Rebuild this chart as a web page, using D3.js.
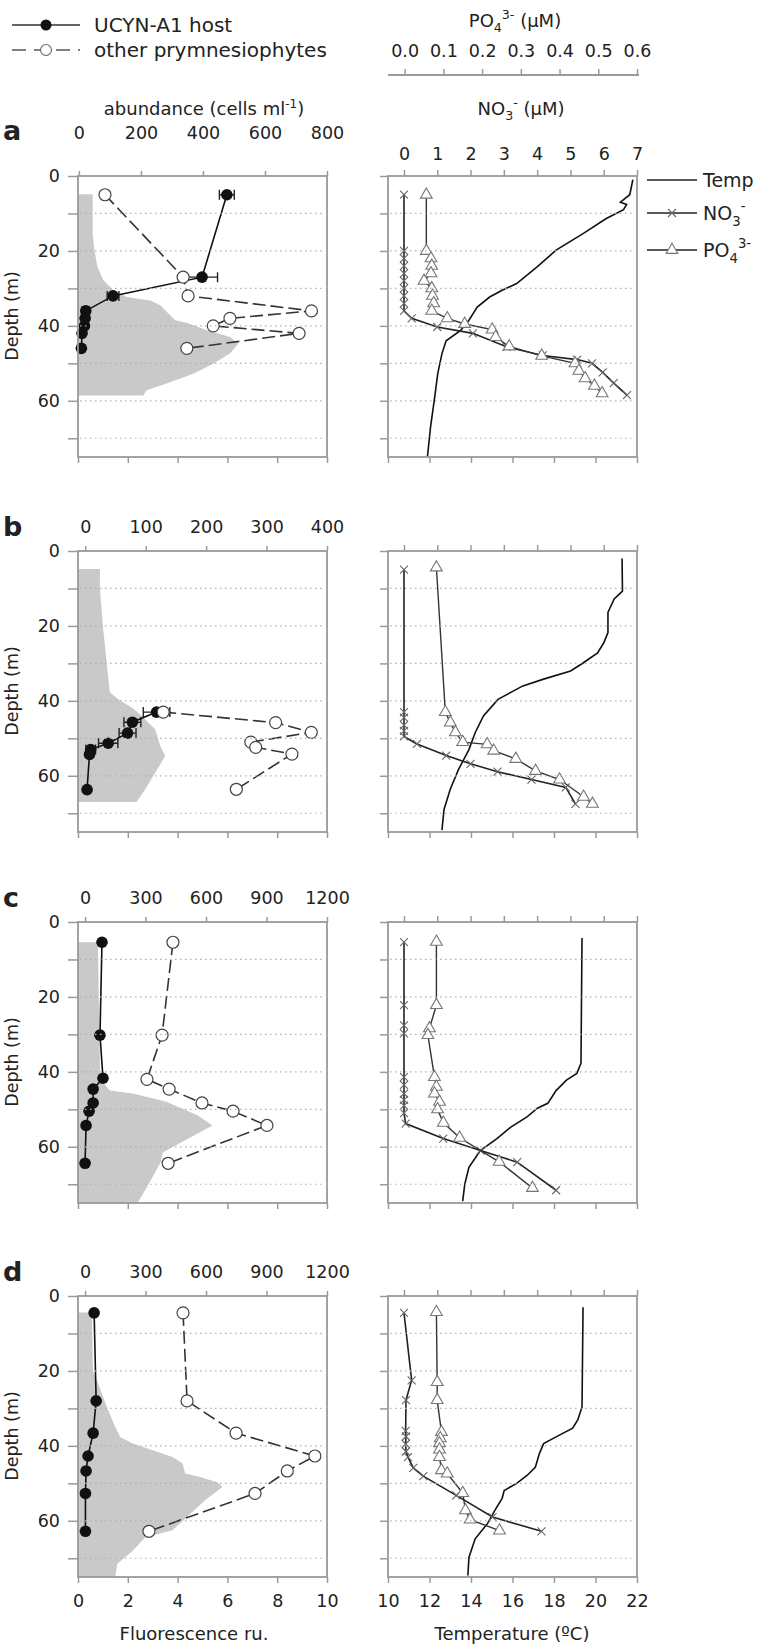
<!DOCTYPE html>
<html><head><meta charset="utf-8">
<script src="https://cdn.jsdelivr.net/npm/d3@7"></script>
<style>
body{margin:0;background:#fff;}
svg{display:block;}
text{font-family:"DejaVu Sans",sans-serif;fill:#222;}
</style></head><body>
<svg id="chart" width="764" height="1646"></svg>
<script>
// ---------------- DATA ----------------
const depthTicks = [0, 10, 20, 30, 40, 50, 60, 70];
const abTicksA = [0, 200, 400, 600, 800];
const abTicksB = [0, 100, 200, 300, 400];
const abTicksCD = [0, 300, 600, 900, 1200];
const fluorTicks = [0, 2, 4, 6, 8, 10];
const no3Ticks = [0, 1, 2, 3, 4, 5, 6, 7];
const po4Ticks = [0, 0.1, 0.2, 0.3, 0.4, 0.5, 0.6];
const tempTicks = [10, 12, 14, 16, 18, 20, 22];
const panelLetters = ["a", "b", "c", "d"];

// panel a
const aHostDepth = [5, 27, 32, 36, 38, 40, 42, 46];
const aHostCells = [477, 397, 110, 22, 20, 18, 10, 8];
const aHostErr = [24, 50, 19, 12, 0, 0, 0, 0];
const aOtherDepth = [5, 27, 32, 36, 38, 40, 42, 46];
const aOtherCells = [84, 336, 352, 750, 487, 433, 710, 348];
const aFluorDepth = [4.9, 15.3, 19.8, 24.2, 27.8, 30.5, 32.3, 33.2, 34.5, 36.7, 38.5, 39.2, 41.2, 43, 44.7, 47.4, 50.1, 52.8, 55.4, 57.2, 58.6];
const aFluor = [0.59, 0.59, 0.66, 0.78, 1.02, 1.42, 1.95, 2.9, 3.3, 3.63, 3.9, 4.37, 5.17, 6.1, 6.44, 6.1, 5.43, 4.63, 3.56, 2.76, 2.62];
const aNO3Depth = [5, 20, 22, 24, 26, 28, 30, 32, 34, 36, 38, 40.3, 42, 45.6, 47.9, 49, 50, 52.4, 55.3, 58.5];
const aNO3 = [0, 0, 0, 0, 0, 0, 0, 0, 0, 0, 0.23, 1.0, 2.07, 3.08, 4.17, 5.2, 5.65, 5.97, 6.3, 6.7];
const aPO4Depth = [5, 20, 22, 24, 26, 28, 30, 32, 34, 36, 38, 39.5, 41, 43, 45.5, 48, 50, 52, 54, 56, 58];
const aPO4 = [0.056, 0.056, 0.068, 0.07, 0.068, 0.05, 0.07, 0.072, 0.075, 0.07, 0.11, 0.155, 0.226, 0.235, 0.27, 0.354, 0.44, 0.45, 0.466, 0.49, 0.51];
const aTempDepth = [1, 5, 7, 7.6, 9, 11.4, 15.4, 19.8, 24.2, 28.7, 30.5, 32.3, 35, 38.5, 41.2, 44, 47.4, 52.7, 59, 67, 75];
const aTemp = [21.8, 21.65, 21.2, 21.5, 21.35, 20.5, 19.4, 18.1, 17.2, 16.2, 15.5, 14.9, 14.3, 13.9, 13.5, 12.8, 12.6, 12.4, 12.25, 12.05, 11.9];

// panel b
const bHostDepth = [43, 45.7, 48.6, 51.3, 53, 54.3, 63.7];
const bHostCells = [118, 78, 70, 38, 9, 7, 3];
const bHostErr = [22, 14, 14, 16, 8, 0, 0];
const bOtherDepth = [43, 45.8, 48.4, 51, 52.4, 54.2, 63.6];
const bOtherCells = [129, 315, 374, 274, 282, 342, 250];
const bFluorDepth = [4.8, 10, 20, 29.7, 37.7, 39.5, 42, 44, 45, 47.6, 52, 54.7, 57, 63.6, 67];
const bFluor = [0.88, 0.88, 1.0, 1.15, 1.28, 1.6, 2.2, 2.55, 2.7, 3.1, 3.3, 3.5, 3.3, 2.7, 2.35];
const bNO3Depth = [5, 43, 44.5, 46.5, 48, 49.5, 51.5, 54.6, 56.8, 58.9, 61, 63.1, 67.5];
const bNO3 = [0, 0, 0, 0, 0, 0, 0.39, 1.27, 2.0, 2.81, 3.83, 4.86, 5.15];
const bPO4Depth = [4.4, 43, 45.8, 48.4, 51, 51.6, 53.3, 55.5, 58.7, 61, 65.6, 67.5];
const bPO4 = [0.082, 0.105, 0.118, 0.131, 0.15, 0.213, 0.23, 0.287, 0.338, 0.40, 0.462, 0.485];
const bTempDepth = [2, 10.7, 12.8, 16.4, 21.8, 24.5, 27.2, 29.9, 32, 34.2, 36, 39.6, 44, 48.5, 53, 58.3, 63.6, 69, 74.5];
const bTemp = [21.28, 21.3, 20.9, 20.6, 20.6, 20.4, 20.1, 19.4, 18.8, 17.5, 16.5, 15.3, 14.6, 14.2, 13.9, 13.4, 13.0, 12.7, 12.6];

// panel c
const cHostDepth = [5.4, 30.2, 41.7, 44.6, 48.3, 50.5, 54.3, 64.4];
const cHostCells = [84, 74, 89, 40, 40, 20, 5, 0];
const cHostErr = [0, 0, 0, 0, 0, 0, 0, 0];
const cOtherDepth = [5.4, 30.2, 42, 44.6, 48.3, 50.5, 54.3, 64.4];
const cOtherCells = [436, 382, 307, 417, 580, 734, 902, 412];
const cFluorDepth = [5.4, 38.8, 42, 45, 45.8, 48, 51.6, 54.3, 61.5, 64, 69.8, 74.3, 75];
const cFluor = [0.8, 0.88, 0.9, 1.28, 2.2, 3.55, 4.8, 5.4, 3.4, 3.33, 2.85, 2.45, 2.4];
const cNO3Depth = [5.4, 22.2, 27.6, 29.7, 41.4, 43.5, 45.8, 47.5, 49, 51, 53.8, 57.8, 61, 64.1, 71.6];
const cNO3 = [0, 0, 0, 0, 0, 0, 0, 0, 0, 0, 0.05, 1.18, 2.3, 3.4, 4.57];
const cPO4Depth = [5.3, 22.2, 28.4, 30.2, 41.4, 44, 45.8, 48, 50, 53.6, 57.6, 64, 71];
const cPO4 = [0.082, 0.082, 0.064, 0.06, 0.077, 0.082, 0.077, 0.09, 0.085, 0.10, 0.142, 0.244, 0.33];
const cTempDepth = [4.3, 37.7, 40.4, 42.2, 45, 46.7, 48.4, 49.7, 52, 54.8, 57.8, 61, 65.5, 70, 74.5];
const cTemp = [19.35, 19.3, 19.1, 18.6, 18.1, 17.9, 17.7, 17.2, 16.7, 15.9, 15.25, 14.45, 13.9, 13.7, 13.6];

// panel d
const dHostDepth = [4.5, 28, 36.6, 42.7, 46.7, 52.7, 62.8];
const dHostCells = [45, 55, 40, 15, 5, 2, 2];
const dHostErr = [0, 0, 0, 0, 0, 0, 0];
const dOtherDepth = [4.5, 28, 36.6, 42.7, 46.7, 52.7, 62.8];
const dOtherCells = [486, 506, 749, 1140, 1003, 843, 317];
const dFluorDepth = [4.4, 20, 22.5, 29.6, 35, 37.7, 39.4, 41.2, 43, 44.7, 47.4, 48.3, 49.7, 51, 54.5, 62.5, 64.4, 68, 71.5, 75];
const dFluor = [0.56, 0.6, 0.76, 1.16, 1.5, 1.7, 2.2, 3.0, 3.8, 4.2, 4.3, 4.9, 5.6, 5.8, 5.1, 3.8, 2.7, 2.2, 1.57, 1.5];
const dNO3Depth = [4.5, 22.5, 27.8, 36, 37.5, 39.5, 41.5, 43, 45.9, 48.1, 53.2, 59, 62.8];
const dNO3 = [0, 0.23, 0.06, 0.05, 0.06, 0.05, 0.06, 0.12, 0.28, 0.58, 1.57, 2.66, 4.13];
const dPO4Depth = [4.3, 23, 27.8, 36.3, 38, 39.3, 41, 43, 46.5, 47.4, 52.6, 57.2, 59.7, 62.6];
const dPO4 = [0.082, 0.084, 0.084, 0.095, 0.092, 0.09, 0.09, 0.09, 0.095, 0.11, 0.15, 0.157, 0.169, 0.245];
const dTempDepth = [3, 29.6, 33, 35.3, 37.6, 39.4, 42, 45.7, 47.9, 50, 51.9, 54, 57.2, 60.7, 64.8, 69.8, 74.6];
const dTemp = [19.4, 19.35, 19.15, 18.9, 18.1, 17.5, 17.3, 17.1, 16.7, 16.2, 15.6, 15.5, 15.15, 14.8, 14.2, 13.9, 13.85];

// ---------------- LAYOUT ----------------
const panels = [
  {abDomain: [-3, 800], abTicks: abTicksA, hostD: aHostDepth, hostV: aHostCells, hostE: aHostErr, othD: aOtherDepth, othV: aOtherCells, flD: aFluorDepth, flV: aFluor, nD: aNO3Depth, nV: aNO3, pD: aPO4Depth, pV: aPO4, tD: aTempDepth, tV: aTemp},
  {abDomain: [-12, 400], abTicks: abTicksB, hostD: bHostDepth, hostV: bHostCells, hostE: bHostErr, othD: bOtherDepth, othV: bOtherCells, flD: bFluorDepth, flV: bFluor, nD: bNO3Depth, nV: bNO3, pD: bPO4Depth, pV: bPO4, tD: bTempDepth, tV: bTemp},
  {abDomain: [-35, 1200], abTicks: abTicksCD, hostD: cHostDepth, hostV: cHostCells, hostE: cHostErr, othD: cOtherDepth, othV: cOtherCells, flD: cFluorDepth, flV: cFluor, nD: cNO3Depth, nV: cNO3, pD: cPO4Depth, pV: cPO4, tD: cTempDepth, tV: cTemp},
  {abDomain: [-35, 1200], abTicks: abTicksCD, hostD: dHostDepth, hostV: dHostCells, hostE: dHostErr, othD: dOtherDepth, othV: dOtherCells, flD: dFluorDepth, flV: dFluor, nD: dNO3Depth, nV: dNO3, pD: dPO4Depth, pV: dPO4, tD: dTempDepth, tV: dTemp}
];
const LX0 = 78, LX1 = 327, RX0 = 388, RX1 = 637, PH = 281;
const tops = [176, 551, 922, 1296];
const topPad = [32, 13, 13, 13];
const FRAME = "#9a9a9a";
const FS = 17.5;
const svg = d3.select("#chart");

const xN = d3.scaleLinear().domain([-0.48, 7]).range([RX0, RX1]);
const xP = d3.scaleLinear().domain([-0.043, 0.6]).range([RX0, RX1]);
const xT = d3.scaleLinear().domain([10, 22]).range([RX0, RX1]);
const xF = d3.scaleLinear().domain([0, 10]).range([LX0, LX1]);

function styleAxis(g, labels) {
  g.attr("font-size", FS).attr("font-family", "DejaVu Sans, sans-serif");
  g.select(".domain").remove();
  g.selectAll(".tick line").attr("stroke", FRAME).attr("stroke-width", 1.5);
  g.selectAll(".tick text").attr("fill", "#222");
  if (!labels) g.selectAll(".tick text").remove();
}
const crossPath = "M-4,-4L4,4M-4,4L4,-4";
const triPath = d3.symbol(d3.symbolTriangle, 60)();

function chem(t, base, sub, sup, rest, fs) {
  t.append("tspan").text(base);
  t.append("tspan").attr("font-size", fs * 0.7).attr("dy", fs * 0.3).text(sub);
  if (sup) t.append("tspan").attr("font-size", fs * 0.7).attr("dy", -fs * 0.75).text(sup);
  if (rest) t.append("tspan").attr("font-size", fs).attr("dy", sup ? fs * 0.45 : -fs * 0.3).text(rest);
}

panels.forEach((p, i) => {
  const top = tops[i], bot = top + PH, last = i === 3;
  const y = d3.scaleLinear().domain([0, 75]).range([top, bot]);
  const xAb = d3.scaleLinear().domain(p.abDomain).range([LX0, LX1]);
  const gL = svg.append("g"), gR = svg.append("g");

  // fluorescence area
  const fl = p.flD.map((d, j) => ({d, v: p.flV[j]}));
  gL.append("path").datum(fl)
    .attr("d", d3.area().x0(xF(0)).x1(o => xF(o.v)).y(o => y(o.d)))
    .attr("fill", "#c9c9c9");

  // gridlines
  depthTicks.filter(d => d > 0).forEach(d => {
    [[LX0, LX1], [RX0, RX1]].forEach(([a, b]) => {
      svg.append("line").attr("x1", a + 2).attr("x2", b - 2).attr("y1", y(d)).attr("y2", y(d))
        .attr("stroke", "#b0b0b0").attr("stroke-width", 1.2).attr("stroke-dasharray", "1.5,3.5");
    });
  });

  // frames
  [[LX0, LX1], [RX0, RX1]].forEach(([a, b]) => {
    svg.append("rect").attr("x", a).attr("y", top).attr("width", b - a).attr("height", PH)
      .attr("fill", "none").attr("stroke", FRAME).attr("stroke-width", 1.8);
  });

  // axes left panel
  styleAxis(svg.append("g").attr("transform", `translate(0,${top})`)
    .call(d3.axisTop(xAb).tickValues(p.abTicks).tickSize(5).tickPadding(topPad[i]).tickFormat(d3.format("d"))), true);
  styleAxis(svg.append("g").attr("transform", `translate(${LX0},0)`)
    .call(d3.axisLeft(y).tickValues(depthTicks).tickSize(10).tickPadding(8)
      .tickFormat(d => d % 20 === 0 ? d : "")), true);
  styleAxis(svg.append("g").attr("transform", `translate(0,${bot})`)
    .call(d3.axisBottom(xF).tickValues(fluorTicks).tickSize(6).tickPadding(12)), last);
  // axes right panel
  styleAxis(svg.append("g").attr("transform", `translate(0,${top})`)
    .call(d3.axisTop(xN).tickValues(no3Ticks).tickSize(6).tickPadding(10)), i === 0);
  styleAxis(svg.append("g").attr("transform", `translate(${RX0},0)`)
    .call(d3.axisLeft(y).tickValues(depthTicks).tickSize(8).tickFormat("")), false);
  styleAxis(svg.append("g").attr("transform", `translate(0,${bot})`)
    .call(d3.axisBottom(xT).tickValues(tempTicks).tickSize(6).tickPadding(12)), last);

  // panel letter & depth label
  svg.append("text").attr("x", 3).attr("y", top - (i === 0 ? 36 : 15))
    .attr("font-size", 27).attr("font-weight", "bold").attr("fill", "#111").text(panelLetters[i]);
  svg.append("text").attr("transform", `translate(18,${top + 140}) rotate(-90)`)
    .attr("text-anchor", "middle").attr("font-size", FS).text("Depth (m)");

  // host error bars
  p.hostD.forEach((d, j) => {
    const e = p.hostE[j];
    if (!e) return;
    const v = p.hostV[j], yy = y(d);
    const xa = xAb(v - e), xb = xAb(v + e);
    gL.append("path").attr("d", `M${xa},${yy}H${xb}M${xa},${yy - 5}V${yy + 5}M${xb},${yy - 5}V${yy + 5}`)
      .attr("stroke", "#222").attr("stroke-width", 1.4).attr("fill", "none");
  });
  // host line + markers
  const host = p.hostD.map((d, j) => ({d, v: p.hostV[j]}));
  gL.append("path").datum(host).attr("d", d3.line().x(o => xAb(o.v)).y(o => y(o.d)))
    .attr("fill", "none").attr("stroke", "#111").attr("stroke-width", 1.6);
  gL.selectAll(null).data(host).join("circle").attr("cx", o => xAb(o.v)).attr("cy", o => y(o.d))
    .attr("r", 5.8).attr("fill", "#111");
  // other line + markers
  const oth = p.othD.map((d, j) => ({d, v: p.othV[j]}));
  gL.append("path").datum(oth).attr("d", d3.line().x(o => xAb(o.v)).y(o => y(o.d)))
    .attr("fill", "none").attr("stroke", "#333").attr("stroke-width", 1.6).attr("stroke-dasharray", "13,5");
  gL.selectAll(null).data(oth).join("circle").attr("cx", o => xAb(o.v)).attr("cy", o => y(o.d))
    .attr("r", 6).attr("fill", "#fff").attr("stroke", "#444").attr("stroke-width", 1.2);

  // right panel: temperature
  const tmp = p.tD.map((d, j) => ({d, v: p.tV[j]}));
  gR.append("path").datum(tmp).attr("d", d3.line().x(o => xT(o.v)).y(o => y(o.d)))
    .attr("fill", "none").attr("stroke", "#111").attr("stroke-width", 1.6);
  // NO3
  const no3 = p.nD.map((d, j) => ({d, v: p.nV[j]}));
  gR.append("path").datum(no3).attr("d", d3.line().x(o => xN(o.v)).y(o => y(o.d)))
    .attr("fill", "none").attr("stroke", "#222").attr("stroke-width", 1.6);
  gR.selectAll(null).data(no3).join("path").attr("d", crossPath)
    .attr("transform", o => `translate(${xN(o.v)},${y(o.d)})`)
    .attr("stroke", "#666").attr("stroke-width", 1.1).attr("fill", "none");
  // PO4
  const po4 = p.pD.map((d, j) => ({d, v: p.pV[j]}));
  gR.append("path").datum(po4).attr("d", d3.line().x(o => xP(o.v)).y(o => y(o.d)))
    .attr("fill", "none").attr("stroke", "#333").attr("stroke-width", 1.4);
  gR.selectAll(null).data(po4).join("path").attr("d", triPath)
    .attr("transform", o => `translate(${xP(o.v)},${y(o.d)})`)
    .attr("fill", "#fff").attr("stroke", "#777").attr("stroke-width", 1.1);
});

// ---------------- HEADER ----------------
// legend left
const leg = svg.append("g");
leg.append("line").attr("x1", 12).attr("x2", 80).attr("y1", 25).attr("y2", 25).attr("stroke", "#333").attr("stroke-width", 1.6);
leg.append("circle").attr("cx", 46).attr("cy", 25).attr("r", 5.5).attr("fill", "#111");
leg.append("text").attr("x", 94).attr("y", 32).attr("font-size", 20).text("UCYN-A1 host");
leg.append("line").attr("x1", 12).attr("x2", 80).attr("y1", 50).attr("y2", 50).attr("stroke", "#555").attr("stroke-width", 1.6).attr("stroke-dasharray", "14,8");
leg.append("circle").attr("cx", 46).attr("cy", 50).attr("r", 5.5).attr("fill", "#fff").attr("stroke", "#666").attr("stroke-width", 1.1);
leg.append("text").attr("x", 94).attr("y", 57).attr("font-size", 20).text("other prymnesiophytes");

// PO4 top axis
const po4Y = 75;
svg.append("line").attr("x1", RX0).attr("x2", 639).attr("y1", po4Y).attr("y2", po4Y).attr("stroke", FRAME).attr("stroke-width", 1.8);
styleAxis(svg.append("g").attr("transform", `translate(0,${po4Y})`)
  .call(d3.axisTop(xP).tickValues(po4Ticks).tickSize(6).tickPadding(12).tickFormat(d3.format(".1f"))), true);
chem(svg.append("text").attr("x", 515).attr("y", 27).attr("text-anchor", "middle").attr("font-size", 18), "PO", "4", "3-", " (µM)", 18);

// axis titles
const abT = svg.append("text").attr("x", 204).attr("y", 115).attr("text-anchor", "middle").attr("font-size", 18);
abT.append("tspan").text("abundance (cells ml");
abT.append("tspan").attr("font-size", 12).attr("dy", -7).text("-1");
abT.append("tspan").attr("dy", 7).text(")");
chem(svg.append("text").attr("x", 521).attr("y", 115).attr("text-anchor", "middle").attr("font-size", 18), "NO", "3", "-", " (µM)", 18);

svg.append("text").attr("x", 194).attr("y", 1640).attr("text-anchor", "middle").attr("font-size", 18).text("Fluorescence ru.");
svg.append("text").attr("x", 512).attr("y", 1640).attr("text-anchor", "middle").attr("font-size", 18).text("Temperature (ºC)");

// right legend
const legR = [{y: 180, label: "Temp", m: null}, {y: 213, label: "NO3", m: "x"}, {y: 250, label: "PO4", m: "t"}];
legR.forEach(r => {
  svg.append("line").attr("x1", 647).attr("x2", 697).attr("y1", r.y).attr("y2", r.y).attr("stroke", "#222").attr("stroke-width", 1.6);
  if (r.m === "x") svg.append("path").attr("d", crossPath).attr("transform", `translate(672,${r.y})`).attr("stroke", "#666").attr("stroke-width", 1.1).attr("fill", "none");
  if (r.m === "t") svg.append("path").attr("d", triPath).attr("transform", `translate(672,${r.y})`).attr("fill", "#fff").attr("stroke", "#777").attr("stroke-width", 1.1);
  const t = svg.append("text").attr("x", 703).attr("y", r.y + 7).attr("font-size", 19);
  if (r.label === "Temp") t.text("Temp");
  else if (r.label === "NO3") chem(t, "NO", "3", "-", null, 19);
  else chem(t, "PO", "4", "3-", null, 19);
});
</script></body></html>
